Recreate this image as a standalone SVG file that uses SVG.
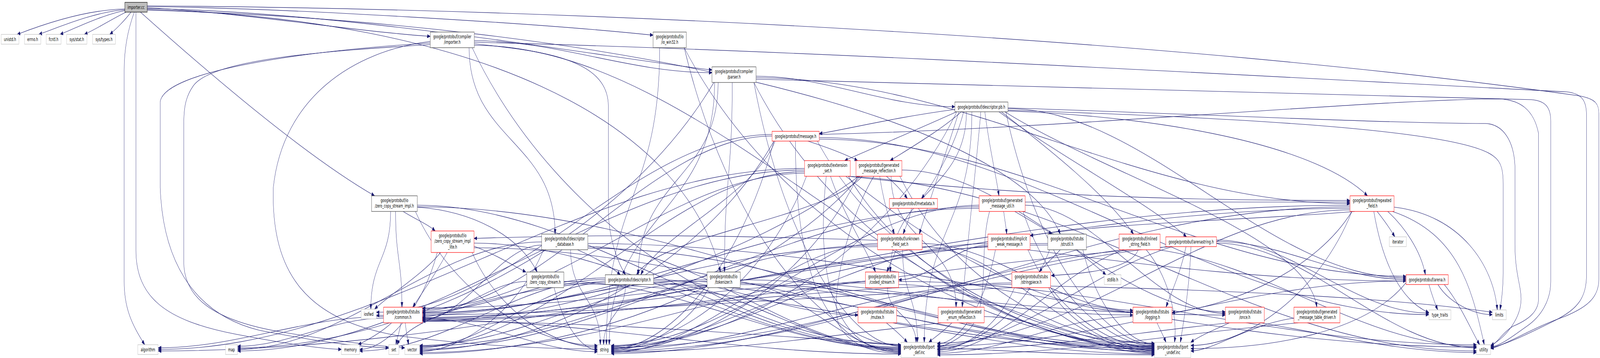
<svg xmlns="http://www.w3.org/2000/svg" width="6791" height="916" viewBox="0 0 6791 916" preserveAspectRatio="none">
<defs>
<marker id="arr" markerWidth="14" markerHeight="10" refX="13" refY="5" orient="auto" markerUnits="userSpaceOnUse"><path d="M0,0.5 L13,5 L0,9.5 z" fill="#191970" stroke="#191970"/></marker>
<style>
svg:root{width:100vw;height:100vh}
.e{fill:none;stroke:#191970;stroke-width:1.1;marker-end:url(#arr)}
.n rect{fill:#ffffff;stroke-width:1.2}
.k rect{stroke:#404040}
.r rect{stroke:#ff0000}
.g rect{stroke:#bfbfbf}
.root rect{fill:#bfbfbf;stroke:#000000}
text{font-family:"DejaVu Sans","Liberation Sans",sans-serif;font-size:12.8px;text-anchor:middle;fill:#000000}
</style>
</defs>
<rect x="0" y="0" width="6791" height="916" fill="#ffffff"/>
<g id="edges">
<path class="e" d="M530,23 C350,25 150,70 73,88"/>
<path class="e" d="M530,25 C400,30 240,72 165,88"/>
<path class="e" d="M531,27 C440,37 320,72 255,88"/>
<path class="e" d="M535,31 C480,47 410,74 358,88"/>
<path class="e" d="M556,31 C530,52 490,76 466,88"/>
<path class="e" d="M570,31 C540,80 527,130 527,180 L527,720 C527,790 560,830 614,882"/>
<path class="e" d="M577,31 L577,640 C577,760 700,820 1000,855 C1200,878 1350,892 1449,894"/>
<path class="e" d="M625,20 C1000,30 1500,80 1826,93"/>
<path class="e" d="M625,17 C1200,20 2300,60 2772,90"/>
<path class="e" d="M625,22 C1500,30 2600,150 3022,179"/>
<path class="e" d="M625,24 C2000,50 2900,300 3058,696"/>
<path class="e" d="M596,31 C900,195 1300,400 1590,501"/>
<path class="e" d="M625,26 C2600,60 4300,300 4500,599"/>
<path class="e" d="M625,15 C2500,22 5000,100 6700,245 C6770,252 6786,265 6786,290 L6786,715 C6786,760 6740,785 6640,810 C6500,840 6400,880 6327,892"/>
<path class="e" d="M2013,104 C2366,104 2669,186 3022,186"/>
<path class="e" d="M2013,112 C2300,130 2580,150 2582,270 L2582,540 C2585,620 2630,680 2655,703"/>
<path class="e" d="M1991,122 C1991,360 2356,360 2356,599"/>
<path class="e" d="M1826,106 C1500,130 1200,250 1160,480 C1150,700 1300,820 1700,860 C2100,890 2400,893 2536,893"/>
<path class="e" d="M1826,114 C1400,130 900,150 820,220 C785,250 780,280 780,320 L780,670 C780,760 900,820 1200,850 C1450,875 1600,885 1718,890"/>
<path class="e" d="M1826,110 C1300,130 700,180 680,260 L680,480 C690,650 800,800 1100,845 C1400,880 1550,888 1650,890"/>
<path class="e" d="M2004,122 C2368,586 3187,882 3824,882"/>
<path class="e" d="M2013,116 C3023,116 3890,893 4900,893"/>
<path class="e" d="M2013,108 C3500,130 5500,200 6650,235 C6720,240 6734,260 6734,300 L6734,700 C6734,760 6700,790 6600,820 C6500,850 6400,880 6327,890"/>
<path class="e" d="M3030,211 C2626,621 1716,890 1008,890"/>
<path class="e" d="M3033,211 C3033,546 2586,547 2586,882"/>
<path class="e" d="M3209,195 C3504,195 3758,273 4053,273"/>
<path class="e" d="M3108,211 C3108,453 3075,454 3075,696"/>
<path class="e" d="M3048,211 C3048,457 2709,457 2709,703"/>
<path class="e" d="M3209,199 C4091,199 4848,521 5730,521"/>
<path class="e" d="M3200,211 C3325,618 3606,886 3824,886"/>
<path class="e" d="M3200,211 C3540,618 4305,890 4900,890"/>
<path class="e" d="M3209,203 C4500,215 5800,235 6500,255 C6560,258 6582,275 6582,310 L6582,720 C6582,770 6540,810 6480,835 C6420,860 6370,885 6327,888"/>
<path class="e" d="M2800,122 C2800,502 2574,502 2574,882"/>
<path class="e" d="M2904,122 C3088,586 3502,884 3824,884"/>
<path class="e" d="M2904,122 C3303,586 4201,884 4900,884"/>
<path class="e" d="M3009,736 C2926,832 2739,896 2594,896"/>
<path class="e" d="M3001,720 C2574,720 2208,884 1781,884"/>
<path class="e" d="M3001,716 C2578,716 2216,806 1793,806"/>
<path class="e" d="M3142,716 C3725,716 4226,806 4809,806"/>
<path class="e" d="M3142,724 C3381,724 3585,900 3824,900"/>
<path class="e" d="M3142,728 C3757,728 4285,900 4900,900"/>
<path class="e" d="M1658,541 C1658,666 1574,666 1574,791"/>
<path class="e" d="M1763,541 C1918,748 2265,884 2536,884"/>
<path class="e" d="M1771,530 C2000,540 2200,600 2280,696"/>
<path class="e" d="M1711,541 C1760,560 1820,575 1847,591"/>
<path class="e" d="M1679,541 C1679,664 1706,664 1706,786"/>
<path class="e" d="M1771,525 C2490,525 3105,888 3824,888"/>
<path class="e" d="M1771,529 C2866,529 3805,886 4900,886"/>
<path class="e" d="M1870,646 C1800,700 1640,760 1590,791"/>
<path class="e" d="M1856,646 C1790,795 1641,894 1526,894"/>
<path class="e" d="M2004,646 C2110,795 2350,888 2536,888"/>
<path class="e" d="M2012,630 C2100,650 2180,680 2232,696"/>
<path class="e" d="M1898,646 C1850,700 1790,750 1752,786"/>
<path class="e" d="M2012,622 C2646,622 3190,890 3824,890"/>
<path class="e" d="M2012,634 C3000,634 3900,888 4900,888"/>
<path class="e" d="M2352,736 C2389,831 2472,896 2536,896"/>
<path class="e" d="M2236,720 C2081,720 1948,810 1793,810"/>
<path class="e" d="M2393,720 C2894,720 3323,892 3824,892"/>
<path class="e" d="M2393,726 C3300,726 4000,892 4900,892"/>
<path class="e" d="M4567,639 C4620,665 4670,690 4694,703"/>
<path class="e" d="M4447,623 C3514,623 2714,902 1781,902"/>
<path class="e" d="M4447,627 C3518,627 2722,814 1793,814"/>
<path class="e" d="M4500,639 C4470,660 4430,680 4411,696"/>
<path class="e" d="M4455,639 C4360,793 4145,892 3978,892"/>
<path class="e" d="M4596,639 C4657,793 4794,880 4900,880"/>
<path class="e" d="M2299,619 C1847,619 1460,894 1008,894"/>
<path class="e" d="M2422,639 C2422,760 2548,760 2548,882"/>
<path class="e" d="M2495,623 C3815,623 4947,888 6267,888"/>
<path class="e" d="M2307,639 C2202,792 1965,899 1781,899"/>
<path class="e" d="M2299,627 C2122,627 1970,818 1793,818"/>
<path class="e" d="M2451,639 C2530,660 2600,685 2633,703"/>
<path class="e" d="M2495,631 C2960,631 3359,894 3824,894"/>
<path class="e" d="M2495,635 C3400,635 4000,894 4900,894"/>
<path class="e" d="M2569,715 C2204,715 1891,898 1526,898"/>
<path class="e" d="M2569,719 C2200,740 1750,800 1685,882"/>
<path class="e" d="M2655,728 C2655,805 2562,805 2562,882"/>
<path class="e" d="M2569,723 C2293,723 2057,890 1781,890"/>
<path class="e" d="M2569,711 C2297,711 2065,798 1793,798"/>
<path class="e" d="M2774,715 C3078,715 3338,806 3642,806"/>
<path class="e" d="M2774,719 C3623,719 4352,806 5201,806"/>
<path class="e" d="M2774,723 C3142,723 3456,898 3824,898"/>
<path class="e" d="M2774,727 C3600,727 4100,898 4900,898"/>
<path class="e" d="M4061,286 C3768,651 3107,890 2594,890"/>
<path class="e" d="M4125,286 C4125,581 3923,581 3923,876"/>
<path class="e" d="M4269,286 C4395,645 4679,882 4900,882"/>
<path class="e" d="M4102,286 C4102,491 3779,491 3779,696"/>
<path class="e" d="M4278,278 C4870,278 5376,711 5968,711"/>
<path class="e" d="M4240,286 C4500,400 4900,530 5036,606"/>
<path class="e" d="M4265,286 C4700,450 5550,600 5589,786"/>
<path class="e" d="M4180,286 C4200,380 4225,440 4240,501"/>
<path class="e" d="M4250,286 C4450,380 4700,500 4811,599"/>
<path class="e" d="M4090,286 C4050,380 3960,470 3911,508"/>
<path class="e" d="M4080,286 C4000,330 3860,380 3778,411"/>
<path class="e" d="M4053,280 C3800,300 3600,330 3477,342"/>
<path class="e" d="M4278,284 C5000,300 5600,380 5804,501"/>
<path class="e" d="M4060,286 C3900,330 3700,380 3585,411"/>
<path class="e" d="M4163,286 C4140,450 4100,650 4084,786"/>
<path class="e" d="M4070,286 C4000,420 3930,540 3902,599"/>
<path class="e" d="M4278,282 C5200,300 6200,330 6340,400 C6375,415 6380,440 6380,470 L6380,700 C6380,740 6372,770 6367,793"/>
<path class="e" d="M4278,276 C5000,290 5900,316 6305,316 C6380,318 6425,360 6430,424 L6430,624 C6430,700 6456,730 6456,765 C6456,810 6400,860 6327,884"/>
<path class="e" d="M3277,344 C2689,344 2185,799 1597,799"/>
<path class="e" d="M3285,361 C3147,681 2836,893 2594,893"/>
<path class="e" d="M3477,352 C4383,352 5159,805 6065,805"/>
<path class="e" d="M3285,361 C2984,681 2307,896 1781,896"/>
<path class="e" d="M3277,348 C2758,348 2312,794 1793,794"/>
<path class="e" d="M3477,356 C4349,356 5096,707 5968,707"/>
<path class="e" d="M3290,361 C3200,500 2800,600 2720,703"/>
<path class="e" d="M3429,361 C3500,375 3590,395 3640,411"/>
<path class="e" d="M3376,361 C3376,700 3500,896 3824,896"/>
<path class="e" d="M3469,361 C3755,682 4399,879 4900,879"/>
<path class="e" d="M3477,344 C4500,330 5800,255 6361,253 C6450,255 6510,280 6530,341 L6530,765 C6530,800 6480,820 6421,835 C6380,850 6350,880 6327,886"/>
<path class="e" d="M3415,431 C2455,431 1631,894 671,894"/>
<path class="e" d="M3415,435 C2573,435 1850,898 1008,898"/>
<path class="e" d="M3423,451 C3257,717 2884,887 2594,887"/>
<path class="e" d="M3600,451 C4600,480 5300,898 6267,898"/>
<path class="e" d="M3415,439 C2843,439 2353,887 1781,887"/>
<path class="e" d="M3415,443 C2847,443 2361,790 1793,790"/>
<path class="e" d="M3590,451 C3900,600 4400,798 4809,798"/>
<path class="e" d="M3525,451 C3580,550 3680,640 3716,696"/>
<path class="e" d="M3600,451 C4300,500 5000,513 5730,513"/>
<path class="e" d="M3507,451 C3470,650 3500,902 3824,902"/>
<path class="e" d="M3601,451 C3861,713 4445,896 4900,896"/>
<path class="e" d="M3641,451 C3432,717 2960,899 2594,899"/>
<path class="e" d="M3650,451 C3300,700 2500,905 1781,905"/>
<path class="e" d="M3645,451 C3200,650 2400,822 1793,822"/>
<path class="e" d="M3660,451 C3500,560 2800,600 2702,703"/>
<path class="e" d="M3782,451 C3782,618 4058,618 4058,786"/>
<path class="e" d="M3828,435 C4309,435 4720,798 5201,798"/>
<path class="e" d="M3734,451 C3750,520 3780,570 3796,599"/>
<path class="e" d="M3762,451 C3800,470 3830,490 3851,508"/>
<path class="e" d="M3709,451 C3600,560 3520,760 3560,830 C3600,880 3700,904 3824,904"/>
<path class="e" d="M3819,451 C4035,713 4495,878 4900,878"/>
<path class="e" d="M3869,533 C3860,560 3845,580 3833,599"/>
<path class="e" d="M4156,525 C3609,525 3141,884 2594,884"/>
<path class="e" d="M4156,529 C3325,529 2612,893 1781,893"/>
<path class="e" d="M4156,533 C3329,533 2620,802 1793,802"/>
<path class="e" d="M4260,541 C4265,565 4270,580 4273,599"/>
<path class="e" d="M4351,525 C4649,525 4903,802 5201,802"/>
<path class="e" d="M4351,517 C4900,517 5200,517 5730,517"/>
<path class="e" d="M4307,541 C4360,560 4420,580 4465,599"/>
<path class="e" d="M4200,541 C4150,650 4210,800 4100,850 C4050,875 4000,888 3978,888"/>
<path class="e" d="M4342,541 C4454,746 4705,885 4900,885"/>
<path class="e" d="M3725,623 C3329,623 2990,902 2594,902"/>
<path class="e" d="M3725,627 C3000,627 2500,886 1781,886"/>
<path class="e" d="M3725,631 C3000,631 2500,800 1793,800"/>
<path class="e" d="M3914,623 C4227,623 4496,794 4809,794"/>
<path class="e" d="M3804,639 C3790,660 3775,680 3764,696"/>
<path class="e" d="M3725,615 C3000,600 2500,600 2012,610"/>
<path class="e" d="M3831,639 C3831,757 3894,757 3894,876"/>
<path class="e" d="M3914,631 C4259,631 4555,902 4900,902"/>
<path class="e" d="M4193,623 C3634,623 3153,886 2594,886"/>
<path class="e" d="M4193,627 C4060,627 3947,716 3814,716"/>
<path class="e" d="M4360,639 C4900,680 5400,719 5968,719"/>
<path class="e" d="M4225,639 C4176,793 4064,880 3978,880"/>
<path class="e" d="M4363,639 C4470,788 4712,891 4900,891"/>
<path class="e" d="M4760,639 C4000,700 3300,905 2594,905"/>
<path class="e" d="M4915,639 C5400,680 5800,886 6267,886"/>
<path class="e" d="M4831,639 C4800,690 4600,700 4462,705"/>
<path class="e" d="M4770,639 C4480,700 4248,900 3978,900"/>
<path class="e" d="M4865,639 C4950,700 5000,800 4985,876"/>
<path class="e" d="M4960,631 C4124,680 3418,889 2594,889"/>
<path class="e" d="M5163,614 C5479,614 5749,801 6065,801"/>
<path class="e" d="M5163,622 C5549,622 5881,890 6267,890"/>
<path class="e" d="M4970,631 C3900,680 2800,820 1793,820"/>
<path class="e" d="M5034,631 C5010,700 4970,750 4949,786"/>
<path class="e" d="M5163,618 C5445,618 5686,715 5968,715"/>
<path class="e" d="M4975,631 C4608,700 4318,884 3978,884"/>
<path class="e" d="M5055,631 C5050,720 5030,800 5010,876"/>
<path class="e" d="M3673,720 C3295,720 2972,892 2594,892"/>
<path class="e" d="M3814,720 C4673,720 5408,882 6267,882"/>
<path class="e" d="M3673,724 C3015,724 2451,812 1793,812"/>
<path class="e" d="M3767,736 C3767,806 3888,806 3888,876"/>
<path class="e" d="M3814,728 C4194,728 4520,887 4900,887"/>
<path class="e" d="M4300,736 C3350,760 2541,807 1597,807"/>
<path class="e" d="M4459,732 C5115,740 5900,760 6334,799"/>
<path class="e" d="M4295,724 C3700,724 3189,895 2594,895"/>
<path class="e" d="M4295,728 C3420,728 2668,816 1793,816"/>
<path class="e" d="M4306,736 C4240,832 4093,896 3978,896"/>
<path class="e" d="M4451,736 C4541,832 4743,897 4900,897"/>
<path class="e" d="M6103,728 C6149,774 6253,805 6334,805"/>
<path class="e" d="M6065,728 C6075,750 6090,775 6102,793"/>
<path class="e" d="M6130,728 C6200,780 6240,840 6280,882"/>
<path class="e" d="M5968,719 C5272,719 4675,886 3978,886"/>
<path class="e" d="M5968,723 C5800,850 5400,892 5054,892"/>
<path class="e" d="M5910,541 C6200,600 6250,750 6300,882"/>
<path class="e" d="M5730,525 C4000,525 2400,898 671,898"/>
<path class="e" d="M5845,541 C5870,560 5900,585 5920,606"/>
<path class="e" d="M5917,530 C6200,550 6340,680 6355,793"/>
<path class="e" d="M5730,529 C4600,529 3700,898 2594,898"/>
<path class="e" d="M5831,541 C5870,680 5950,770 6065,800"/>
<path class="e" d="M5738,541 C5585,690 5241,780 4974,800"/>
<path class="e" d="M5730,533 C4400,533 3100,788 1793,788"/>
<path class="e" d="M5890,541 C5960,580 6030,640 6050,703"/>
<path class="e" d="M5750,541 C5400,560 4700,570 4372,603"/>
<path class="e" d="M5730,537 C5100,537 4600,878 3978,878"/>
<path class="e" d="M5738,541 C5601,749 5293,884 5054,884"/>
<path class="e" d="M3995,826 C3500,860 3080,901 2594,901"/>
<path class="e" d="M4040,826 C4010,845 3970,862 3942,876"/>
<path class="e" d="M4177,810 C4430,810 4650,904 4900,904"/>
<path class="e" d="M4809,810 C4500,810 4270,904 3978,904"/>
<path class="e" d="M4911,826 C4925,845 4940,862 4949,876"/>
<path class="e" d="M5350,826 C5681,860 5952,902 6267,902"/>
<path class="e" d="M5215,826 C4700,860 4400,894 3978,894"/>
<path class="e" d="M5218,826 C5150,845 5090,860 5054,876"/>
<path class="e" d="M3762,826 C3800,845 3830,862 3851,876"/>
<path class="e" d="M3790,826 C4190,870 4517,906 4900,906"/>
<path class="e" d="M5510,826 C4900,860 4500,908 3978,908"/>
<path class="e" d="M5492,814 C5300,830 5150,898 5054,898"/>
<path class="e" d="M1628,810 C1293,810 1006,890 671,890"/>
<path class="e" d="M1628,814 C1411,814 1225,886 1008,886"/>
<path class="e" d="M1662,826 C1620,850 1560,870 1520,882"/>
<path class="e" d="M1702,826 C1695,850 1686,865 1680,882"/>
<path class="e" d="M1793,814 C2053,814 2276,900 2536,900"/>
<path class="e" d="M1720,826 C1724,850 1730,865 1734,882"/>
<path class="e" d="M1793,818 C2500,818 3100,906 3824,906"/>
<path class="e" d="M1793,822 C3000,822 3900,908 4900,908"/>
</g>
<g id="node_root" class="n root"><rect x="530" y="6" width="95" height="25"/><text x="577.5" y="23">importer.cc</text></g>
<g id="node_unistd" class="n g"><rect x="5" y="88" width="75" height="25"/><text x="42.5" y="105">unistd.h</text></g>
<g id="node_errno" class="n g"><rect x="104" y="88" width="69" height="25"/><text x="138.5" y="105">errno.h</text></g>
<g id="node_fcntl" class="n g"><rect x="196" y="88" width="63" height="25"/><text x="227.5" y="105">fcntl.h</text></g>
<g id="node_sysstat" class="n g"><rect x="283" y="88" width="86" height="25"/><text x="326" y="105">sys/stat.h</text></g>
<g id="node_systypes" class="n g"><rect x="393" y="88" width="97" height="25"/><text x="441.5" y="105">sys/types.h</text></g>
<g id="node_importer_h" class="n k"><rect x="1826" y="82" width="187" height="40"/><text x="1919.5" y="98">google/protobuf/compiler</text><text x="1919.5" y="112.5">/importer.h</text></g>
<g id="node_io_win32" class="n k"><rect x="2772" y="82" width="141" height="40"/><text x="2842.5" y="98">google/protobuf/io</text><text x="2842.5" y="112.5">/io_win32.h</text></g>
<g id="node_parser" class="n k"><rect x="3022" y="171" width="187" height="40"/><text x="3115.5" y="187">google/protobuf/compiler</text><text x="3115.5" y="201.5">/parser.h</text></g>
<g id="node_descpb" class="n k"><rect x="4053" y="261" width="225" height="25"/><text x="4165.5" y="278">google/protobuf/descriptor.pb.h</text></g>
<g id="node_message" class="n r"><rect x="3277" y="336" width="200" height="25"/><text x="3377" y="353">google/protobuf/message.h</text></g>
<g id="node_extset" class="n r"><rect x="3415" y="411" width="194" height="40"/><text x="3512" y="427">google/protobuf/extension</text><text x="3512" y="441.5">_set.h</text></g>
<g id="node_gmr" class="n r"><rect x="3633" y="411" width="195" height="40"/><text x="3730.5" y="427">google/protobuf/generated</text><text x="3730.5" y="441.5">_message_reflection.h</text></g>
<g id="node_zcsi" class="n k"><rect x="1577" y="501" width="194" height="40"/><text x="1674" y="517">google/protobuf/io</text><text x="1674" y="531.5">/zero_copy_stream_impl.h</text></g>
<g id="node_gmu" class="n r"><rect x="4156" y="501" width="195" height="40"/><text x="4253.5" y="517">google/protobuf/generated</text><text x="4253.5" y="531.5">_message_util.h</text></g>
<g id="node_repfield" class="n r"><rect x="5730" y="501" width="187" height="40"/><text x="5823.5" y="517">google/protobuf/repeated</text><text x="5823.5" y="531.5">_field.h</text></g>
<g id="node_metadata" class="n r"><rect x="3775" y="508" width="204" height="25"/><text x="3877" y="525">google/protobuf/metadata.h</text></g>
<g id="node_zcsil" class="n r"><rect x="1830" y="591" width="182" height="55"/><text x="1921" y="607">google/protobuf/io</text><text x="1921" y="621.5">/zero_copy_stream_impl</text><text x="1921" y="636">_lite.h</text></g>
<g id="node_descdb" class="n k"><rect x="2299" y="599" width="196" height="40"/><text x="2397" y="615">google/protobuf/descriptor</text><text x="2397" y="629.5">_database.h</text></g>
<g id="node_ufs" class="n r"><rect x="3725" y="599" width="189" height="40"/><text x="3819.5" y="615">google/protobuf/unknown</text><text x="3819.5" y="629.5">_field_set.h</text></g>
<g id="node_iwm" class="n r"><rect x="4193" y="599" width="179" height="40"/><text x="4282.5" y="615">google/protobuf/implicit</text><text x="4282.5" y="629.5">_weak_message.h</text></g>
<g id="node_strutil" class="n k"><rect x="4447" y="599" width="164" height="40"/><text x="4529" y="615">google/protobuf/stubs</text><text x="4529" y="629.5">/strutil.h</text></g>
<g id="node_isf" class="n r"><rect x="4750" y="599" width="174" height="40"/><text x="4837" y="615">google/protobuf/inlined</text><text x="4837" y="629.5">_string_field.h</text></g>
<g id="node_arenastring" class="n r"><rect x="4948" y="606" width="215" height="25"/><text x="5055.5" y="623">google/protobuf/arenastring.h</text></g>
<g id="node_iterator" class="n g"><rect x="5897" y="606" width="72" height="25"/><text x="5933" y="623">iterator</text></g>
<g id="node_zcs" class="n k"><rect x="2236" y="696" width="157" height="40"/><text x="2314.5" y="712">google/protobuf/io</text><text x="2314.5" y="726.5">/zero_copy_stream.h</text></g>
<g id="node_desc" class="n k"><rect x="2569" y="703" width="205" height="25"/><text x="2671.5" y="720">google/protobuf/descriptor.h</text></g>
<g id="node_tokenizer" class="n k"><rect x="3001" y="696" width="141" height="40"/><text x="3071.5" y="712">google/protobuf/io</text><text x="3071.5" y="726.5">/tokenizer.h</text></g>
<g id="node_coded" class="n r"><rect x="3673" y="696" width="141" height="40"/><text x="3743.5" y="712">google/protobuf/io</text><text x="3743.5" y="726.5">/coded_stream.h</text></g>
<g id="node_stringpiece" class="n r"><rect x="4295" y="696" width="164" height="40"/><text x="4377" y="712">google/protobuf/stubs</text><text x="4377" y="726.5">/stringpiece.h</text></g>
<g id="node_stdlib" class="n g"><rect x="4687" y="703" width="71" height="25"/><text x="4722.5" y="720">stdlib.h</text></g>
<g id="node_arena" class="n r"><rect x="5968" y="703" width="179" height="25"/><text x="6057.5" y="720">google/protobuf/arena.h</text></g>
<g id="node_iosfwd" class="n g"><rect x="1533" y="791" width="64" height="25"/><text x="1565" y="808">iosfwd</text></g>
<g id="node_common" class="n r"><rect x="1628" y="786" width="165" height="40"/><text x="1710.5" y="802">google/protobuf/stubs</text><text x="1710.5" y="816.5">/common.h</text></g>
<g id="node_mutex" class="n r"><rect x="3642" y="786" width="164" height="40"/><text x="3724" y="802">google/protobuf/stubs</text><text x="3724" y="816.5">/mutex.h</text></g>
<g id="node_ger" class="n r"><rect x="3982" y="786" width="195" height="40"/><text x="4079.5" y="802">google/protobuf/generated</text><text x="4079.5" y="816.5">_enum_reflection.h</text></g>
<g id="node_logging" class="n r"><rect x="4809" y="786" width="165" height="40"/><text x="4891.5" y="802">google/protobuf/stubs</text><text x="4891.5" y="816.5">/logging.h</text></g>
<g id="node_once" class="n r"><rect x="5201" y="786" width="165" height="40"/><text x="5283.5" y="802">google/protobuf/stubs</text><text x="5283.5" y="816.5">/once.h</text></g>
<g id="node_gmtd" class="n r"><rect x="5492" y="786" width="195" height="40"/><text x="5589.5" y="802">google/protobuf/generated</text><text x="5589.5" y="816.5">_message_table_driven.h</text></g>
<g id="node_type_traits" class="n g"><rect x="6065" y="793" width="93" height="25"/><text x="6111.5" y="810">type_traits</text></g>
<g id="node_limits" class="n g"><rect x="6334" y="793" width="59" height="25"/><text x="6363.5" y="810">limits</text></g>
<g id="node_algorithm" class="n g"><rect x="585" y="882" width="86" height="25"/><text x="628" y="899">algorithm</text></g>
<g id="node_map" class="n g"><rect x="957" y="882" width="51" height="25"/><text x="982.5" y="899">map</text></g>
<g id="node_memory" class="n g"><rect x="1449" y="882" width="77" height="25"/><text x="1487.5" y="899">memory</text></g>
<g id="node_set" class="n g"><rect x="1650" y="882" width="43" height="25"/><text x="1671.5" y="899">set</text></g>
<g id="node_vector" class="n g"><rect x="1718" y="882" width="63" height="25"/><text x="1749.5" y="899">vector</text></g>
<g id="node_string" class="n g"><rect x="2536" y="882" width="58" height="25"/><text x="2565" y="899">string</text></g>
<g id="node_port_def" class="n g"><rect x="3824" y="876" width="154" height="39"/><text x="3901" y="892">google/protobuf/port</text><text x="3901" y="906.5">_def.inc</text></g>
<g id="node_port_undef" class="n g"><rect x="4900" y="876" width="154" height="39"/><text x="4977" y="892">google/protobuf/port</text><text x="4977" y="906.5">_undef.inc</text></g>
<g id="node_utility" class="n g"><rect x="6267" y="882" width="60" height="25"/><text x="6297" y="899">utility</text></g>
</svg>
